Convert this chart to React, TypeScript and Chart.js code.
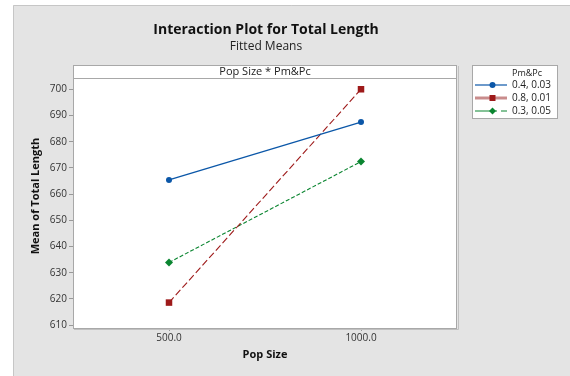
import React, { useEffect, useRef } from "react";
import { Chart, registerables } from "chart.js";

Chart.register(...registerables);

// Fitted means of Total Length by population size, one line per Pm&Pc setting
const popSizes = [500, 1000];
const meansA = [665.4, 687.5]; // Pm&Pc = 0.4, 0.03
const meansB = [618.6, 700.0]; // Pm&Pc = 0.8, 0.01
const meansC = [633.9, 672.4]; // Pm&Pc = 0.3, 0.05
const seriesLabels = ["0.4, 0.03", "0.8, 0.01", "0.3, 0.05"];
const yTicks = [610, 620, 630, 640, 650, 660, 670, 680, 690, 700];
const xTicks = [500, 1000];

const FONT = "'Open Sans', 'Noto Sans', sans-serif";
const BLUE = "#0b57a8";
const RED = "#9e1a1a";
const GREEN = "#0a8530";
const PANEL = "#e4e4e4";
const FRAME = "#a8a8a8";

const framePlugin = {
  id: "minitabFrame",
  beforeDraw(chart: any) {
    const { ctx, chartArea: a } = chart;
    const W = chart.width;
    const H = chart.height;
    ctx.save();
    ctx.fillStyle = "#ffffff";
    ctx.fillRect(0, 0, W, H);
    // outer graph panel
    ctx.fillStyle = PANEL;
    ctx.fillRect(13, 5, W - 13, H - 5);
    ctx.strokeStyle = "#c6c6c6";
    ctx.lineWidth = 1;
    ctx.beginPath();
    ctx.moveTo(13.5, H);
    ctx.lineTo(13.5, 5.5);
    ctx.lineTo(W, 5.5);
    ctx.stroke();

    // titles
    ctx.fillStyle = "#111";
    ctx.textAlign = "center";
    ctx.textBaseline = "middle";
    ctx.font = `bold 14px ${FONT}`;
    ctx.fillText("Interaction Plot for Total Length", 266, 30);
    ctx.fillStyle = "#222";
    ctx.font = `12px ${FONT}`;
    ctx.fillText("Fitted Means", 266, 47);

    // strip header above the data region
    const stripTop = 65;
    ctx.fillStyle = "#ffffff";
    ctx.fillRect(a.left, stripTop, a.right - a.left, a.top - stripTop);
    ctx.fillStyle = "#222";
    ctx.font = `11px ${FONT}`;
    ctx.fillText("Pop Size * Pm&Pc", (a.left + a.right) / 2, stripTop + 6.5);

    // data region
    ctx.fillStyle = "#ffffff";
    ctx.fillRect(a.left, a.top, a.right - a.left, a.bottom - a.top);
    ctx.restore();
  },
  afterDraw(chart: any) {
    const { ctx, chartArea: a } = chart;
    ctx.save();
    // frame around strip + data region
    ctx.strokeStyle = FRAME;
    ctx.lineWidth = 1;
    ctx.strokeRect(a.left + 0.5, 65.5, a.right - a.left - 1, a.bottom - 65);
    ctx.beginPath();
    ctx.moveTo(a.left, a.top + 0.5);
    ctx.lineTo(a.right, a.top + 0.5);
    ctx.stroke();
    ctx.strokeStyle = "#c0c0c0";
    ctx.beginPath();
    ctx.moveTo(a.right + 1.5, 66);
    ctx.lineTo(a.right + 1.5, a.bottom + 1.5);
    ctx.lineTo(a.left + 1, a.bottom + 1.5);
    ctx.stroke();

    // axis titles
    ctx.fillStyle = "#111";
    ctx.font = `bold 11px ${FONT}`;
    ctx.textAlign = "center";
    ctx.textBaseline = "middle";
    ctx.fillText("Pop Size", (a.left + a.right) / 2, 355);
    ctx.save();
    ctx.translate(36, 196);
    ctx.rotate(-Math.PI / 2);
    ctx.fillText("Mean of Total Length", 0, 0);
    ctx.restore();

    // legend box
    const lx = 472;
    const ly = 65;
    const lw = 86;
    const lh = 54;
    ctx.fillStyle = "#ffffff";
    ctx.fillRect(lx, ly, lw, lh);
    ctx.strokeStyle = FRAME;
    ctx.strokeRect(lx + 0.5, ly + 0.5, lw - 1, lh - 1);
    ctx.fillStyle = "#222";
    ctx.font = `9px ${FONT}`;
    ctx.textAlign = "left";
    ctx.fillText("Pm&Pc", 512, 73);
    ctx.font = `10px ${FONT}`;
    const rows = [85, 98, 111];
    chart.data.datasets.forEach((ds: any, i: number) => {
      const y = rows[i];
      ctx.save();
      if (i === 1) {
        ctx.strokeStyle = "#c98c8c";
        ctx.lineWidth = 3;
        ctx.beginPath();
        ctx.moveTo(475, y);
        ctx.lineTo(507, y);
        ctx.stroke();
      } else if (i === 2) {
        ctx.strokeStyle = ds.borderColor;
        ctx.lineWidth = 1.2;
        ctx.beginPath();
        ctx.moveTo(475, y);
        ctx.lineTo(497, y);
        ctx.moveTo(501, y);
        ctx.lineTo(507, y);
        ctx.stroke();
      } else {
        ctx.strokeStyle = ds.borderColor;
        ctx.lineWidth = 1.2;
        ctx.beginPath();
        ctx.moveTo(475, y);
        ctx.lineTo(507, y);
        ctx.stroke();
      }
      ctx.restore();
      ctx.fillStyle = ds.borderColor;
      if (i === 0) {
        ctx.beginPath();
        ctx.arc(492.5, y, 3, 0, Math.PI * 2);
        ctx.fill();
      } else if (i === 1) {
        ctx.fillRect(489.5, y - 3, 6, 6);
      } else {
        ctx.beginPath();
        ctx.moveTo(492.5, y - 3.5);
        ctx.lineTo(496, y);
        ctx.lineTo(492.5, y + 3.5);
        ctx.lineTo(489, y);
        ctx.closePath();
        ctx.fill();
      }
      ctx.fillStyle = "#222";
      ctx.fillText(ds.label, 512, y + 0.5);
    });
    ctx.restore();
  },
};

function toPoints(values: number[]) {
  return popSizes.map((x, i) => ({ x, y: values[i] }));
}

export default function App() {
  const canvasRef = useRef<HTMLCanvasElement | null>(null);

  useEffect(() => {
    document.body.style.margin = "0";
    const canvas = canvasRef.current;
    if (!canvas) return;
    const chart = new Chart(canvas, {
      type: "line",
      data: {
        datasets: [
          {
            label: seriesLabels[0],
            data: toPoints(meansA),
            borderColor: BLUE,
            backgroundColor: BLUE,
            borderWidth: 1.3,
            pointStyle: "circle",
            pointRadius: 3,
            pointBorderWidth: 0,
          },
          {
            label: seriesLabels[1],
            data: toPoints(meansB),
            borderColor: RED,
            backgroundColor: RED,
            borderWidth: 1.1,
            borderDash: [7, 3],
            pointStyle: "rect",
            pointRadius: 4.6,
            pointBorderWidth: 0,
          },
          {
            label: seriesLabels[2],
            data: toPoints(meansC),
            borderColor: GREEN,
            backgroundColor: GREEN,
            borderWidth: 1.1,
            borderDash: [4, 2],
            pointStyle: "rectRot",
            pointRadius: 4,
            pointBorderWidth: 0,
          },
        ],
      },
      options: {
        responsive: false,
        animation: false,
        devicePixelRatio: 1,
        layout: { padding: { left: 0, top: 78, right: 113, bottom: 0 } },
        plugins: {
          legend: { display: false },
          title: { display: false },
          tooltip: { enabled: false },
        },
        scales: {
          x: {
            type: "linear",
            min: 250,
            max: 1250,
            afterBuildTicks: (s: any) => {
              s.ticks = xTicks.map((v) => ({ value: v }));
            },
            afterFit: (s: any) => {
              s.height = 48;
            },
            ticks: {
              color: "#333",
              font: { family: FONT, size: 10 },
              padding: 1,
              maxRotation: 0,
              callback: (v: any) => Number(v).toFixed(1),
            },
            grid: {
              drawOnChartArea: false,
              drawTicks: true,
              tickLength: 3,
              color: "#999",
            },
            border: { display: false },
          },
          y: {
            type: "linear",
            min: 608.9,
            max: 704.3,
            afterBuildTicks: (s: any) => {
              s.ticks = yTicks.map((v) => ({ value: v }));
            },
            afterFit: (s: any) => {
              s.width = 73;
            },
            ticks: {
              color: "#333",
              font: { family: FONT, size: 10 },
              padding: 2,
            },
            grid: {
              drawOnChartArea: false,
              drawTicks: true,
              tickLength: 4,
              color: "#999",
            },
            border: { display: false },
          },
        },
      },
      plugins: [framePlugin],
    } as any);
    return () => chart.destroy();
  }, []);

  return (
    <div style={{ width: 570, height: 376 }}>
      <canvas ref={canvasRef} width={570} height={376} style={{ display: "block" }} />
    </div>
  );
}
